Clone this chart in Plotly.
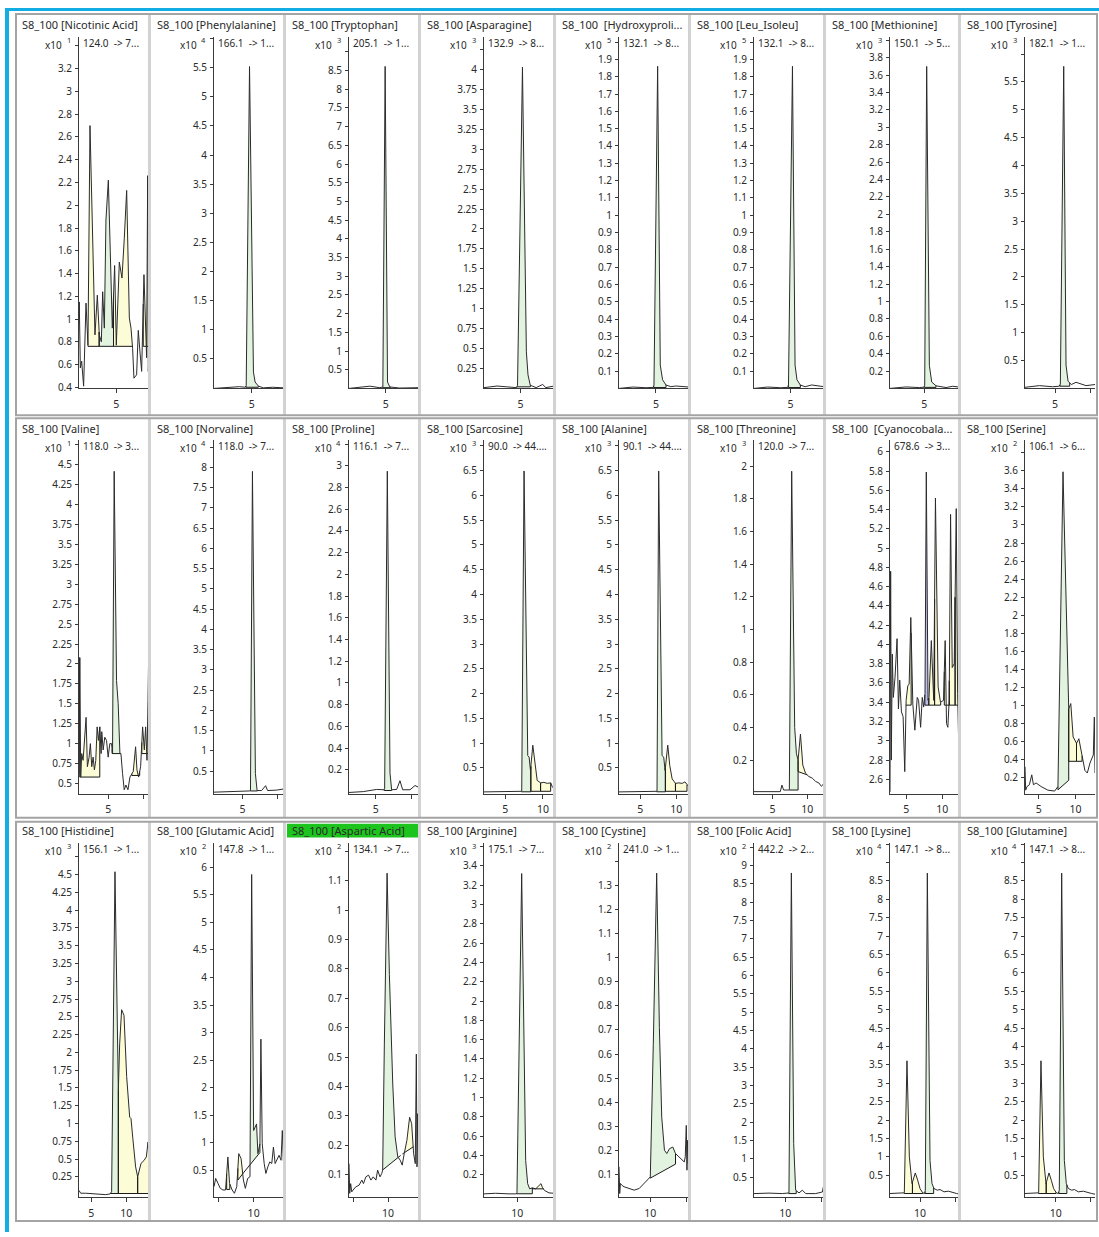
import numpy as np
import plotly.graph_objects as go

W, H = 1099, 1237

# ---------------------------------------------------------------------------
# Chromatogram traces: retention time (min) and intensity (in the panel's x10^n units)
# ---------------------------------------------------------------------------
nicotinic_t = [-0.33, -0.29, -0.14, 0.05, 0.33, 0.67, 0.95, 1.24, 1.95, 2.29, 2.57, 2.86, 3.05, 3.29, 3.52,
               3.86, 4.14, 4.43, 4.76, 5.0, 5.43, 5.81, 6.14, 6.48, 6.86, 7.1, 7.33, 7.52, 7.9, 8.14, 8.38,
               8.62, 8.95, 9.14, 9.33, 9.48, 9.57, 9.67]
nicotinic_i = [1.01, 1.15, 0.57, 0.63, 0.41, 1.14, 0.77, 2.70, 0.86, 1.21, 0.86, 0.80, 1.24, 0.92, 1.87,
               2.22, 1.59, 0.92, 1.47, 0.77, 1.50, 1.36, 1.71, 2.13, 1.01, 0.92, 0.74, 0.48, 0.51, 0.90, 0.71,
               0.54, 1.39, 0.89, 0.66, 2.26, 0.54, 0.71]
nicotinic_peaks = [(0.95, 2.55, 0.76, 0.76, "y"), (2.55, 4.6, 0.76, 0.76, "g"),
                   (4.6, 7.33, 0.76, 0.76, "y"), (8.85, 9.67, 0.76, 0.76, "y")]

phenylalanine_t = [-0.48, 1.0, 2.38, 3.2, 4.05, 4.19, 4.67, 5.24, 5.48, 5.95, 6.67, 8.0, 9.67]
phenylalanine_i = [-0.01, 0.0, 0.01, 0.02, 0.01, 0.04, 5.52, 0.27, 0.10, 0.03, 0.0, 0.01, 0.0]
phenylalanine_peaks = [(4.15, 5.95, 0.01, 0.01, "g")]

tryptophan_t = [-0.29, 1.29, 2.71, 4.14, 4.57, 4.9, 5.24, 5.57, 7.0, 9.76]
tryptophan_i = [0.0, 0.03, 0.06, 0.02, 0.04, 8.61, 0.17, 0.04, 0.01, 0.02]
tryptophan_peaks = [(4.55, 5.7, 0.02, 0.02, "g")]

asparagine_t = [-0.33, 1.57, 3.0, 4.43, 4.57, 5.29, 5.86, 6.1, 6.43, 7.29, 8.24, 8.71, 9.9]
asparagine_i = [0.01, 0.03, 0.02, 0.01, 0.04, 4.03, 0.46, 0.17, 0.04, 0.01, 0.05, 0.01, 0.03]
asparagine_peaks = [(4.5, 6.45, 0.02, 0.02, "g")]

hydroxyproline_t = [-0.33, 1.67, 3.57, 4.62, 4.71, 5.24, 5.62, 5.95, 6.43, 7.14, 7.86, 9.76]
hydroxyproline_i = [0.0, 0.008, 0.004, 0.006, 0.02, 1.86, 0.135, 0.05, 0.02, 0.01, 0.014, 0.008]
hydroxyproline_peaks = [(4.67, 6.45, 0.005, 0.005, "g")]

leu_isoleu_t = [-0.33, 1.67, 3.57, 4.62, 4.71, 5.29, 5.67, 5.95, 6.43, 7.14, 8.1, 9.9]
leu_isoleu_i = [0.0, 0.008, 0.004, 0.006, 0.02, 1.86, 0.135, 0.05, 0.02, 0.01, 0.02, 0.01]
leu_isoleu_peaks = [(4.7, 6.45, 0.005, 0.005, "g")]

methionine_t = [0.0, 2.33, 4.27, 4.95, 5.05, 5.34, 5.73, 6.07, 6.7, 8.16, 9.13, 10.19]
methionine_i = [0.0, 0.017, 0.01, 0.014, 0.036, 3.70, 0.265, 0.074, 0.03, 0.01, 0.025, 0.014]
methionine_peaks = [(5.0, 6.7, 0.012, 0.012, "g")]

tyrosine_t = [0.71, 2.76, 4.67, 5.62, 5.76, 6.24, 6.57, 6.86, 7.33, 8.0, 9.43, 10.71]
tyrosine_i = [0.02, 0.05, 0.03, 0.04, 0.08, 5.78, 0.42, 0.13, 0.07, 0.11, 0.05, 0.07]
tyrosine_peaks = [(5.7, 7.1, 0.04, 0.04, "g")]

valine_t = [0.93, 1.03, 1.17, 1.31, 1.5, 1.73, 1.92, 2.1, 2.34, 2.52, 2.71, 2.9, 3.08, 3.27, 3.46, 3.64,
            3.83, 4.02, 4.11, 4.3, 4.53, 4.77, 5.0, 5.23, 5.47, 5.61, 5.84, 6.17, 6.4, 6.64, 6.78, 7.01,
            7.24, 7.48, 7.76, 8.04, 8.32, 8.5, 8.83, 9.02, 9.25, 9.53, 9.81, 10.05, 10.23, 10.42, 10.56,
            10.65, 10.7]
valine_i = [0.625, 2.08, 0.58, 0.875, 0.79, 1.08, 1.33, 0.71, 0.83, 1.0, 0.71, 0.83, 0.67, 0.79, 1.21, 1.04,
            1.21, 0.875, 1.15, 0.92, 1.08, 1.04, 0.83, 1.0, 1.0, 0.875, 4.42, 1.79, 1.5, 0.875, 0.875, 0.625,
            0.42, 0.48, 0.42, 0.58, 0.625, 0.65, 0.96, 0.67, 0.58, 0.71, 1.21, 0.92, 1.21, 0.79, 1.54,
            2.1, 0.67]
valine_peaks = [(1.03, 3.83, 0.58, 0.58, "y"), (5.55, 6.75, 0.875, 0.875, "g"),
                (8.3, 9.4, 0.6, 0.6, "y"), (9.7, 10.7, 0.875, 0.875, "y")]

norvaline_t = [0.93, 3.74, 5.98, 6.12, 6.4, 6.82, 7.06, 7.71, 8.27, 8.55, 9.81, 10.89]
norvaline_i = [-0.02, -0.01, 0.01, 0.03, 7.9, 0.44, 0.02, 0.02, 0.14, 0.02, 0.03, 0.06]
norvaline_peaks = [(6.08, 7.1, 0.01, 0.01, "g")]

proline_t = [1.23, 3.25, 5.14, 6.18, 6.27, 6.65, 7.03, 7.26, 7.97, 8.44, 8.82, 9.86, 10.57, 11.13]
proline_i = [-0.008, 0.0, 0.02, 0.017, 0.026, 2.95, 0.17, 0.017, 0.02, 0.10, 0.017, 0.017, 0.056, 0.038]
proline_peaks = [(6.22, 7.26, 0.01, 0.01, "g")]

sarcosine_t = [2.19, 6.12, 7.1, 7.19, 7.5, 7.99, 8.17, 8.35, 8.66, 8.93, 9.24, 9.69, 10.13, 10.58, 11.03,
               11.25, 11.47]
sarcosine_i = [0.018, 0.018, 0.018, 0.03, 6.49, 0.75, 0.72, 0.45, 0.96, 0.59, 0.25, 0.2, 0.21, 0.19, 0.2,
               0.12, 0.085]
sarcosine_peaks = [(7.15, 8.4, 0.02, 0.02, "g"), (8.4, 9.69, 0.03, 0.03, "y"), (9.69, 11.03, 0.03, 0.03, "y")]

alanine_t = [2.06, 5.0, 7.24, 7.34, 7.57, 8.04, 8.27, 8.46, 8.83, 9.11, 9.44, 9.91, 10.37, 10.84, 11.21,
             11.54, 11.78]
alanine_i = [0.018, 0.02, 0.018, 0.03, 6.49, 0.75, 0.72, 0.45, 0.96, 0.55, 0.28, 0.19, 0.2, 0.19, 0.22,
             0.15, 0.12]
alanine_peaks = [(7.3, 8.5, 0.02, 0.02, "g"), (8.5, 9.9, 0.03, 0.03, "y"), (9.9, 11.5, 0.03, 0.03, "y")]

threonine_t = [2.33, 6.12, 6.36, 6.6, 7.33, 7.43, 7.77, 8.2, 8.45, 8.69, 9.03, 9.37, 9.76, 10.24, 10.73,
               11.21, 11.7, 12.04, 12.28, 12.43]
threonine_i = [0.007, 0.007, 0.047, 0.017, 0.017, 0.02, 1.97, 0.40, 0.24, 0.2, 0.36, 0.17, 0.12, 0.1, 0.09,
               0.07, 0.06, 0.04, 0.05, 0.04]
threonine_peaks = [(7.4, 8.69, 0.017, 0.017, "g"), (8.69, 10.0, 0.13, 0.11, "y")]

cyanocobalamin_t = [2.76, 2.85, 2.94, 3.08, 3.22, 3.46, 3.74, 3.93, 4.11, 4.35, 4.58, 4.81, 5.0, 5.23, 5.42,
                    5.65, 5.93, 6.21, 6.54, 6.73, 7.01, 7.24, 7.43, 7.62, 7.8, 8.04, 8.18, 8.5, 8.83, 9.07,
                    9.44, 9.77, 10.19, 10.42, 10.61, 10.79, 10.98, 11.17, 11.4, 11.68, 11.96, 12.15, 12.34,
                    12.48]
cyanocobalamin_i = [2.47, 4.76, 2.8, 3.9, 3.45, 3.66, 4.06, 3.33, 3.63, 3.3, 3.25, 2.68, 3.42, 3.57, 3.59,
                    4.28, 3.38, 3.11, 3.45, 3.42, 3.14, 3.45, 3.35, 3.49, 5.79, 3.42, 3.45, 4.04, 3.42, 5.52,
                    3.56, 3.4, 3.42, 4.04, 3.18, 3.14, 3.42, 5.35, 3.76, 3.8, 5.41, 3.49, 2.83, 3.49]
cyanocobalamin_peaks = [(4.95, 5.7, 3.37, 3.37, "y"), (7.6, 8.15, 3.37, 3.37, "b"),
                        (8.15, 8.95, 3.37, 3.37, "y"), (8.95, 9.8, 3.37, 3.37, "y"),
                        (10.3, 11.0, 3.37, 3.37, "y"), (11.0, 11.8, 3.37, 3.37, "y"),
                        (11.8, 12.48, 3.37, 3.37, "y")]

serine_t = [3.12, 3.21, 3.39, 3.72, 4.04, 4.27, 4.63, 5.32, 6.24, 7.16, 7.61, 8.3, 9.08, 9.36, 9.68, 10.14,
            10.46, 10.83, 11.28, 11.61, 11.97, 12.43, 12.57, 12.66]
serine_i = [0.32, 0.06, 0.1, 0.12, 0.23, 0.12, 0.14, 0.1, 0.06, 0.05, 0.1, 3.59, 0.96, 1.02, 0.65, 0.58,
            0.63, 0.47, 0.28, 0.25, 0.36, 0.45, 0.87, 0.25]
serine_peaks = [(7.61, 9.08, 0.064, 0.17, "g"), (9.08, 10.14, 0.38, 0.38, "y"), (10.14, 10.9, 0.38, 0.38, "y")]

histidine_t = [3.24, 3.48, 4.19, 5.14, 6.1, 7.05, 7.67, 7.9, 8.38, 8.86, 9.05, 9.33, 9.67, 10.05, 10.48,
               10.67, 10.95, 11.33, 11.62, 11.81, 12.1, 12.52, 12.86, 13.1, 13.24]
histidine_i = [0.06, 0.02, 0.02, 0.01, 0.01, 0.0, 0.01, 0.04, 4.54, 1.47, 2.12, 2.6, 2.52, 1.66, 1.09,
               1.07, 0.77, 0.39, 0.25, 0.34, 0.44, 0.48, 0.53, 0.74, 0.58]
histidine_peaks = [(7.67, 8.86, 0.016, 0.016, "g"), (8.86, 11.62, 0.016, 0.016, "y"),
                   (11.62, 13.24, 0.016, 0.016, "y")]

glutamic_t = [4.34, 4.58, 4.91, 5.24, 5.61, 5.99, 6.32, 6.56, 6.93, 7.26, 7.59, 7.88, 8.21, 8.54, 8.82,
              9.15, 9.48, 9.72, 10.0, 10.19, 10.42, 10.61, 10.9, 11.04, 11.23, 11.51, 11.75, 12.03, 12.31,
              12.59, 12.83, 13.07, 13.35, 13.63, 13.92, 14.1, 14.25, 14.34]
glutamic_i = [0.20, 0.35, 0.26, 0.17, 0.14, 0.14, 0.74, 0.26, 0.14, 0.08, 0.20, 0.80, 0.71, 0.32, 0.17,
              0.35, 0.38, 5.87, 1.22, 1.28, 1.34, 0.80, 0.98, 2.88, 0.98, 0.62, 0.44, 0.56, 0.65, 0.62,
              0.92, 0.62, 0.71, 0.77, 0.68, 1.22, 0.68, 0.71]
glutamic_peaks = [(6.15, 6.6, 0.15, 0.15, "y"), (7.75, 8.6, 0.32, 0.46, "y"), (8.6, 10.9, 0.46, 0.82, "g")]

aspartic_t = [4.42, 4.52, 4.66, 4.81, 5.0, 5.38, 5.87, 6.25, 6.49, 6.83, 7.21, 7.55, 7.88, 8.27, 8.51, 8.85,
              9.09, 9.23, 9.47, 9.86, 10.19, 10.67, 11.01, 11.39, 11.73, 12.02, 12.31, 12.69, 13.08, 13.37,
              13.65, 13.89, 14.04, 14.13, 14.23, 14.33, 14.42]
aspartic_i = [0.137, 0.036, 0.069, 0.041, 0.047, 0.058, 0.064, 0.081, 0.069, 0.092, 0.098, 0.081, 0.092,
              0.081, 0.115, 0.092, 0.103, 0.115, 0.544, 1.126, 0.781, 0.408, 0.228, 0.160, 0.149, 0.132,
              0.171, 0.216, 0.295, 0.273, 0.171, 0.137, 0.510, 0.126, 0.307, 0.137, 0.273]
aspartic_peaks = [(9.2, 11.8, 0.115, 0.165, "g"), (12.05, 13.65, 0.17, 0.195, "y")]

arginine_t = [5.33, 6.96, 8.83, 9.86, 9.95, 10.61, 11.17, 11.45, 11.73, 12.1, 12.57, 13.04, 13.32, 13.5,
              13.79, 14.44, 15.14]
arginine_i = [0.004, 0.01, 0.004, 0.004, 0.014, 3.32, 0.35, 0.11, 0.056, 0.066, 0.056, 0.09, 0.11, 0.073,
              0.04, 0.014, 0.01]
arginine_peaks = [(9.9, 12.1, 0.005, 0.005, "g"), (12.1, 13.7, 0.056, 0.056, "y")]

cystine_t = [5.73, 5.83, 5.92, 6.1, 6.42, 7.11, 7.8, 8.49, 9.17, 9.63, 10.0, 10.41, 10.87, 11.24, 11.56,
             11.93, 12.25, 12.61, 13.07, 13.44, 13.9, 14.36, 14.63, 14.77, 14.91, 15.0, 15.09, 15.18, 15.28]
cystine_i = [0.132, 0.021, 0.063, 0.056, 0.049, 0.042, 0.035, 0.042, 0.063, 0.077, 0.09, 0.641, 1.351,
             0.710, 0.338, 0.201, 0.187, 0.207, 0.214, 0.187, 0.173, 0.159, 0.152, 0.173, 0.304, 0.118,
             0.242, 0.145, 0.228]
cystine_peaks = [(10.0, 13.44, 0.085, 0.143, "g")]

folic_t = [5.69, 7.75, 9.59, 10.41, 10.5, 10.83, 11.15, 11.42, 11.88, 12.34, 12.8, 14.17, 15.09, 15.23, 15.32]
folic_i = [0.047, 0.06, 0.047, 0.047, 0.065, 8.8, 1.41, 0.14, 0.065, 0.14, 0.047, 0.047, 0.09, 0.23, 0.18]
folic_peaks = [(10.45, 11.5, 0.047, 0.047, "g")]

lysine_t = [5.83, 7.22, 7.78, 7.82, 8.19, 8.52, 8.89, 9.35, 9.68, 10.0, 10.37, 10.65, 10.74, 11.02, 11.39,
            11.67, 11.94, 12.41, 12.78, 13.33, 13.94, 14.63, 15.09, 15.56]
lysine_i = [0.004, 0.004, 0.004, 0.022, 3.61, 1.0, 0.275, 0.563, 0.365, 0.139, 0.022, 0.004, 0.094, 8.71,
            0.906, 0.275, 0.139, 0.094, 0.112, 0.049, 0.067, 0.022, 0.004, -0.014]
lysine_peaks = [(7.8, 8.95, 0.004, 0.004, "y"), (8.95, 10.4, 0.004, 0.004, "y"), (10.7, 11.9, 0.004, 0.004, "g")]

glutamine_t = [5.62, 7.05, 7.52, 7.57, 7.9, 8.24, 8.62, 9.05, 9.38, 9.71, 10.1, 10.38, 10.52, 10.86, 11.24,
               11.52, 11.81, 12.29, 12.67, 13.24, 13.95, 14.67, 15.14, 15.62]
glutamine_i = [0.004, 0.004, 0.004, 0.022, 3.61, 1.0, 0.275, 0.563, 0.365, 0.139, 0.022, 0.004, 0.094, 8.71,
               0.906, 0.275, 0.139, 0.094, 0.112, 0.049, 0.067, 0.022, 0.004, -0.014]
glutamine_peaks = [(7.55, 8.65, 0.004, 0.004, "y"), (8.65, 10.05, 0.004, 0.004, "y"),
                   (10.45, 11.6, 0.004, 0.004, "g")]

# ---------------------------------------------------------------------------
# Panel headers
# ---------------------------------------------------------------------------
titles = ["S8_100 [Nicotinic Acid]", "S8_100 [Phenylalanine]", "S8_100 [Tryptophan]", "S8_100 [Asparagine]",
          "S8_100  [Hydroxyproli...", "S8_100 [Leu_Isoleu]", "S8_100 [Methionine]", "S8_100 [Tyrosine]",
          "S8_100 [Valine]", "S8_100 [Norvaline]", "S8_100 [Proline]", "S8_100 [Sarcosine]",
          "S8_100 [Alanine]", "S8_100 [Threonine]", "S8_100  [Cyanocobala...", "S8_100 [Serine]",
          "S8_100 [Histidine]", "S8_100 [Glutamic Acid]", "S8_100 [Aspartic Acid]", "S8_100 [Arginine]",
          "S8_100 [Cystine]", "S8_100 [Folic Acid]", "S8_100 [Lysine]", "S8_100 [Glutamine]"]
transitions = ["124.0  -> 7...", "166.1  -> 1...", "205.1  -> 1...", "132.9  -> 8...",
               "132.1  -> 8...", "132.1  -> 8...", "150.1  -> 5...", "182.1  -> 1...",
               "118.0  -> 3...", "118.0  -> 7...", "116.1  -> 7...", "90.0  -> 44....",
               "90.1  -> 44....", "120.0  -> 7...", "678.6  -> 3...", "106.1  -> 6...",
               "156.1  -> 1...", "147.8  -> 1...", "134.1  -> 7...", "175.1  -> 7...",
               "241.0  -> 1...", "442.2  -> 2...", "147.1  -> 8...", "147.1  -> 8..."]
exponents = [1, 4, 3, 3, 5, 5, 3, 3,
             1, 4, 4, 3, 3, 3, None, 2,
             3, 2, 2, 3, 2, 2, 4, 4]
selected_panel = 18  # Aspartic Acid header is highlighted

series = [
    (nicotinic_t, nicotinic_i, nicotinic_peaks), (phenylalanine_t, phenylalanine_i, phenylalanine_peaks),
    (tryptophan_t, tryptophan_i, tryptophan_peaks), (asparagine_t, asparagine_i, asparagine_peaks),
    (hydroxyproline_t, hydroxyproline_i, hydroxyproline_peaks), (leu_isoleu_t, leu_isoleu_i, leu_isoleu_peaks),
    (methionine_t, methionine_i, methionine_peaks), (tyrosine_t, tyrosine_i, tyrosine_peaks),
    (valine_t, valine_i, valine_peaks), (norvaline_t, norvaline_i, norvaline_peaks),
    (proline_t, proline_i, proline_peaks), (sarcosine_t, sarcosine_i, sarcosine_peaks),
    (alanine_t, alanine_i, alanine_peaks), (threonine_t, threonine_i, threonine_peaks),
    (cyanocobalamin_t, cyanocobalamin_i, cyanocobalamin_peaks), (serine_t, serine_i, serine_peaks),
    (histidine_t, histidine_i, histidine_peaks), (glutamic_t, glutamic_i, glutamic_peaks),
    (aspartic_t, aspartic_i, aspartic_peaks), (arginine_t, arginine_i, arginine_peaks),
    (cystine_t, cystine_i, cystine_peaks), (folic_t, folic_i, folic_peaks),
    (lysine_t, lysine_i, lysine_peaks), (glutamine_t, glutamine_i, glutamine_peaks),
]

# Axis windows
x_ranges = [(-0.33, 9.67), (-0.48, 9.67), (-0.29, 9.76), (-0.33, 9.9), (-0.33, 9.76), (-0.33, 9.9),
            (0.0, 10.19), (0.71, 10.71),
            (0.93, 10.7), (0.93, 10.89), (1.23, 11.13), (2.19, 11.47), (2.06, 11.78), (2.33, 12.43),
            (2.76, 12.48), (3.12, 12.66),
            (3.24, 13.24), (4.34, 14.34), (4.42, 14.42), (5.33, 15.14), (5.73, 15.28), (5.69, 15.32),
            (5.83, 15.56), (5.62, 15.62)]
y_ranges = [(0.39, 3.48), (-0.01, 6.03), (0.0, 9.4), (0.0, 4.41), (0.0, 2.03), (0.0, 2.03), (0.0, 4.04),
            (0.0, 6.31),
            (0.37, 4.81), (-0.06, 8.67), (-0.02, 3.235), (-0.02, 7.11), (-0.02, 7.11), (-0.006, 2.16),
            (2.45, 6.12), (0.02, 3.94),
            (-0.035, 4.95), (0.01, 6.45), (0.023, 1.23), (-0.03, 3.64), (0.006, 1.478), (-0.05, 9.63),
            (-0.095, 9.54), (-0.095, 9.54)]

# x ticks: labelled values, then tick marks drawn without a label
x_tick_labels = [[5]] * 8 + [[5]] * 3 + [[5, 10]] * 5 + [[5, 10]] + [[10]] * 7
x_tick_bare = [[]] * 6 + [[10]] * 2 + [[10]] * 3 + [[]] * 5 + [[]] + [[5]] * 2 + [[15]] * 5

# y ticks: (first labelled, step, last labelled, bare ticks above)
y_ticks = [(0.4, 0.2, 3.2, [3.4]), (0.5, 0.5, 5.5, [6]), (0.5, 0.5, 8.5, [9]), (0.25, 0.25, 4, [4.25]),
           (0.1, 0.1, 1.9, [2.0]), (0.1, 0.1, 1.9, [2.0]), (0.2, 0.2, 3.8, [4.0]), (0.5, 0.5, 5.5, [6]),
           (0.5, 0.25, 4.5, [4.75]), (0.5, 0.5, 8, [8.5]), (0.2, 0.2, 3, [3.2]), (0.5, 0.5, 6.5, [7]),
           (0.5, 0.5, 6.5, [7]), (0.2, 0.2, 2, []), (2.6, 0.2, 6, []), (0.2, 0.2, 3.6, [3.8]),
           (0.25, 0.25, 4.5, [4.75]), (0.5, 0.5, 6, []), (0.1, 0.1, 1.1, [1.2]), (0.2, 0.2, 3.4, [3.6]),
           (0.1, 0.1, 1.3, [1.4]), (0.5, 0.5, 9, [9.5]), (0.5, 0.5, 8.5, [9, 9.5]), (0.5, 0.5, 8.5, [9, 9.5])]

# ---------------------------------------------------------------------------
# Page geometry (pixels)
# ---------------------------------------------------------------------------
AX_LEFT = [79, 214, 349, 484, 619, 754, 890, 1025]
PLOT_W = 70
PLOT_TOP = [37, 442, 846]
PLOT_BOTTOM = [390, 797, 1202]
TITLE_Y = [25, 430, 834]
ROW_BOX = [(14, 417), (420, 821), (825, 1226)]

FONT = "Noto Sans"
TEXT_C = "#2a2a2a"
AXIS_C = "#3a3a3a"
LINE_C = "#2b2b2b"
FILLS = {"g": "rgba(226,243,224,1)", "y": "rgba(252,252,214,1)", "b": "rgba(190,190,238,1)"}


def px_x(x):
    return x / W


def px_y(y):
    return 1 - y / H


def fmt(v):
    return f"{v:g}"


def label(text, x, y, size, anchor="left"):
    return dict(text=text, xref="paper", yref="paper", x=px_x(x), y=px_y(y), xanchor=anchor,
                yanchor="middle", showarrow=False, font=dict(family=FONT, size=size, color=TEXT_C))


fig = go.Figure()
layout = dict(width=W, height=H, margin=dict(l=0, r=0, t=0, b=0), showlegend=False,
              plot_bgcolor="white", paper_bgcolor="white")
annotations = []
shapes = []

for k in range(24):
    row, col = divmod(k, 8)
    t, v, peaks = series[k]
    t = np.asarray(t, float)
    v = np.asarray(v, float)
    xa = "x" if k == 0 else f"x{k + 1}"
    ya = "y" if k == 0 else f"y{k + 1}"

    # integrated peak areas with their baselines and drop lines
    base_x, base_y = [], []
    for (t0, t1, b0, b1, kind) in peaks:
        inside = (t > t0) & (t < t1)
        xs = np.concatenate([[t0], t[inside], [t1]])
        ys = np.interp(xs, t, v)
        base = b0 + (b1 - b0) * (xs - t0) / (t1 - t0)
        top = np.maximum(ys, base)
        fig.add_trace(go.Scatter(x=np.concatenate([xs, xs[::-1]]), y=np.concatenate([top, base[::-1]]),
                                 fill="toself", fillcolor=FILLS[kind], mode="lines", line=dict(width=0),
                                 hoverinfo="skip", xaxis=xa, yaxis=ya))
        base_x += [t0, t1, None, t0, t0, None, t1, t1, None]
        base_y += [b0, b1, None, b0, top[0], None, b1, top[-1], None]
    if base_x:
        fig.add_trace(go.Scatter(x=base_x, y=base_y, mode="lines", line=dict(color="#1a1a1a", width=1),
                                 hoverinfo="skip", xaxis=xa, yaxis=ya))
    fig.add_trace(go.Scatter(x=t, y=v, mode="lines", line=dict(color=LINE_C, width=1),
                             hoverinfo="skip", xaxis=xa, yaxis=ya))

    left = AX_LEFT[col]
    first, step, last, bare = y_ticks[k]
    n = int(round((last - first) / step)) + 1
    yvals = [round(first + i * step, 6) for i in range(n)]

    axis_common = dict(showgrid=False, zeroline=False, showline=True, linecolor=AXIS_C, linewidth=1,
                       ticks="outside", tickwidth=1, tickcolor=AXIS_C, fixedrange=True, tickmode="array")
    layout["xaxis" if k == 0 else f"xaxis{k + 1}"] = dict(
        axis_common, domain=[px_x(left), px_x(left + PLOT_W)], range=list(x_ranges[k]), anchor=ya,
        tickvals=x_tick_labels[k], ticktext=[fmt(a) for a in x_tick_labels[k]], ticklen=4,
        ticklabelstandoff=2, tickfont=dict(family=FONT, size=10.5, color=TEXT_C),
        minor=dict(tickmode="array", tickvals=x_tick_bare[k], ticks="outside", ticklen=4,
                   tickcolor=AXIS_C, tickwidth=1, showgrid=False))
    layout["yaxis" if k == 0 else f"yaxis{k + 1}"] = dict(
        axis_common, domain=[px_y(PLOT_BOTTOM[row]), px_y(PLOT_TOP[row])], range=list(y_ranges[k]),
        anchor=xa, tickvals=yvals, ticktext=[fmt(a) for a in yvals], ticklen=3, ticklabelstandoff=1,
        tickfont=dict(family=FONT, size=10, color=TEXT_C),
        minor=dict(tickmode="array", tickvals=bare, ticks="outside", ticklen=3,
                   tickcolor=AXIS_C, tickwidth=1, showgrid=False))

    # header texts: sample + compound, MRM transition and the intensity multiplier
    panel_left = 17 + 135 * col
    if k == selected_panel:
        shapes.append(dict(type="rect", xref="paper", yref="paper", layer="below",
                           x0=px_x(panel_left), x1=px_x(panel_left + 131),
                           y0=px_y(TITLE_Y[row] + 7), y1=px_y(TITLE_Y[row] - 7),
                           fillcolor="#1ec41e", line=dict(width=0)))
    annotations.append(label(titles[k].replace("  ", "\u00a0\u00a0"), panel_left + 3, TITLE_Y[row], 11))
    annotations.append(label(transitions[k].replace("  ", "\u00a0\u00a0"), left + 2, PLOT_TOP[row] + 6, 10))
    if exponents[k] is not None:
        annotations.append(label("x10", left - 15, PLOT_TOP[row] + 8, 10, "right"))
        annotations.append(label(str(exponents[k]), left - 6, PLOT_TOP[row] + 3, 7.5, "right"))

# frame: cyan window edge, row boxes and column separators
shapes.append(dict(type="rect", xref="paper", yref="paper", x0=px_x(5), x1=px_x(9), y0=px_y(1237),
                   y1=px_y(9), fillcolor="#12aee3", line=dict(width=0)))
shapes.append(dict(type="rect", xref="paper", yref="paper", x0=px_x(5), x1=px_x(1099), y0=px_y(11),
                   y1=px_y(8), fillcolor="#12aee3", line=dict(width=0)))
for (y0, y1) in ROW_BOX:
    for c in range(1, 8):
        xs = 17 + 135 * c - 2.5
        shapes.append(dict(type="line", xref="paper", yref="paper", x0=px_x(xs), x1=px_x(xs),
                           y0=px_y(y0), y1=px_y(y1), line=dict(color="#d2d2d2", width=3)))
    shapes.append(dict(type="rect", xref="paper", yref="paper", x0=px_x(16), x1=px_x(1097),
                       y0=px_y(y1), y1=px_y(y0), line=dict(color="#a4a4a4", width=2)))

layout["annotations"] = annotations
layout["shapes"] = shapes
fig.update_layout(**layout)
fig.write_html("out.html")
